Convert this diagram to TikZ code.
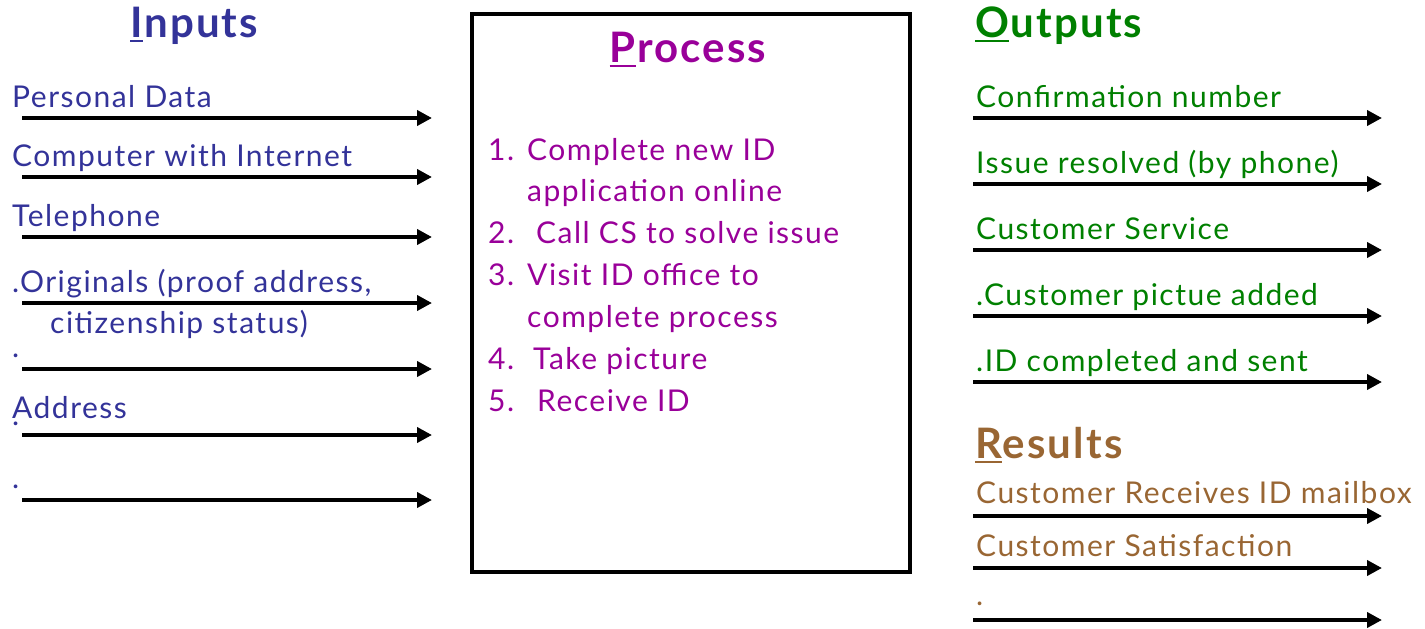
\documentclass[tikz,border=0pt]{standalone}
\usepackage{fontspec}
\setmainfont{Lato}[LetterSpace=5]
\usetikzlibrary{arrows.meta}
\definecolor{inblue}{RGB}{51,51,153}
\definecolor{procpurple}{RGB}{153,0,153}
\definecolor{outgreen}{RGB}{0,128,0}
\definecolor{resbrown}{RGB}{153,102,51}
\newcommand{\ulfirst}[1]{\setbox0\hbox{#1}\rlap{\rule[-5pt]{\wd0}{2.5pt}}#1}
\tikzset{
  txt/.style={anchor=base west,inner sep=0pt,font=\fontsize{30}{34}\selectfont},
  head/.style={anchor=base west,inner sep=0pt,font=\fontsize{42}{46}\selectfont\bfseries},
  flow/.style={line width=4pt,-{Triangle[length=15pt,width=15pt]}},
}
\begin{document}
\begin{tikzpicture}[x=1pt,y=-1pt]
\useasboundingbox (0,0) rectangle (1425,629);
% Inputs
\node[head,text=inblue] (inh) at (130,37) {\ulfirst{I}nputs};
\foreach \n/\y in {1/118,2/177,3/237,4/303,5/369,6/435,7/500}{
  \coordinate (ia\n) at (22,\y);
  \coordinate (ib\n) at (432,\y);
  \draw[flow] (ia\n) -- (ib\n);
}
\node[txt,text=inblue] (i1) at (12,107) {Personal Data};
\node[txt,text=inblue] (i2) at (12,166) {Computer with Internet};
\node[txt,text=inblue] (i3) at (12,226) {Telephone};
\node[txt,text=inblue] (i4) at (12,292) {.Originals (proof address,};
\node[txt,text=inblue] (i4b) at (50,333) {citizenship status)};
\node[txt,text=inblue] (i5) at (12,357) {.};
\node[txt,text=inblue] (i6) at (12,418) {\makebox[0pt][l]{\raisebox{-7pt}{.}}Address};
\node[txt,text=inblue] (i7) at (12,488) {.};
% Process
\node[draw,line width=4pt,minimum width=438pt,minimum height=558pt,inner sep=0pt,anchor=north west] (box) at (470,12) {};
\node[head,text=procpurple,anchor=base] (ph) at (688,62) {\ulfirst{P}rocess};
\node[txt,text=procpurple] (p1n) at (488,160) {1.};
\node[txt,text=procpurple] (p1) at (527,160) {Complete new ID};
\node[txt,text=procpurple] (p1b) at (527,201) {application online};
\node[txt,text=procpurple] (p2n) at (488,243) {2.};
\node[txt,text=procpurple] (p2) at (536,243) {Call CS to solve issue};
\node[txt,text=procpurple] (p3n) at (488,285) {3.};
\node[txt,text=procpurple] (p3) at (527,285) {Visit ID office to};
\node[txt,text=procpurple] (p3b) at (527,327) {complete process};
\node[txt,text=procpurple] (p4n) at (488,369) {4.};
\node[txt,text=procpurple] (p4) at (533,369) {Take picture};
\node[txt,text=procpurple] (p5n) at (488,411) {5.};
\node[txt,text=procpurple] (p5) at (537,411) {Receive ID};
% Outputs
\node[head,text=outgreen] (oh) at (975,37) {\ulfirst{O}utputs};
\foreach \n/\y in {1/118,2/184,3/250,4/316,5/382}{
  \coordinate (oa\n) at (973,\y);
  \coordinate (ob\n) at (1382,\y);
  \draw[flow] (oa\n) -- (ob\n);
}
\node[txt,text=outgreen] (o1) at (976,107) {Confirmation number};
\node[txt,text=outgreen] (o2) at (976,173) {Issue resolved (by phone)};
\node[txt,text=outgreen] (o3) at (976,239) {Customer Service};
\node[txt,text=outgreen] (o4) at (976,305) {.Customer pictue added};
\node[txt,text=outgreen] (o5) at (976,371) {.ID completed and sent};
% Results
\node[head,text=resbrown] (rh) at (975,458) {\ulfirst{R}esults};
\foreach \n/\y in {1/516,2/568,3/620}{
  \coordinate (ra\n) at (973,\y);
  \coordinate (rb\n) at (1382,\y);
  \draw[flow] (ra\n) -- (rb\n);
}
\node[txt,text=resbrown] (r1) at (976,503) {Customer Receives ID mailbox};
\node[txt,text=resbrown] (r2) at (976,556) {Customer Satisfaction};
\node[txt,text=resbrown] (r3) at (976,605) {.};
\end{tikzpicture}
\end{document}
